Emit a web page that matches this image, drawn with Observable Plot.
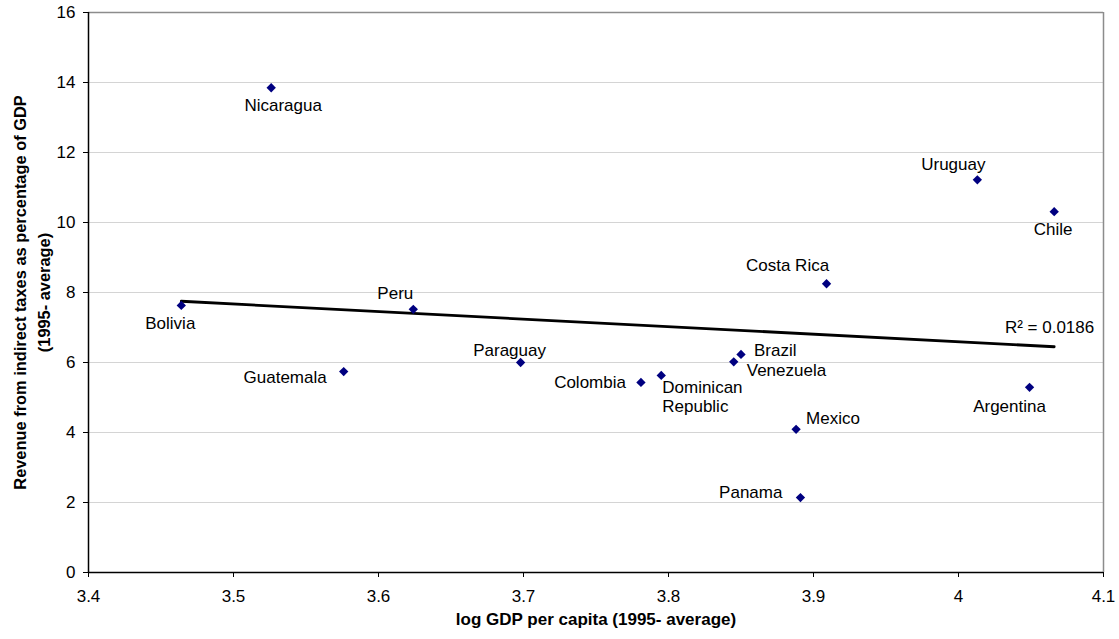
<!DOCTYPE html>
<html>
<head>
<meta charset="utf-8">
<script src="https://cdn.jsdelivr.net/npm/d3@7"></script>
<script src="https://cdn.jsdelivr.net/npm/@observablehq/plot@0.6"></script>
<style>
  html, body { margin: 0; padding: 0; background: #fff; }
  #chart svg { display: block; }
</style>
</head>
<body>
<div id="chart"></div>
<script>
// ---- data ----
const countries = ["Nicaragua","Bolivia","Guatemala","Peru","Paraguay","Colombia","Dominican\nRepublic","Venezuela","Brazil","Mexico","Panama","Costa Rica","Uruguay","Chile","Argentina"];
const logGdp   = [3.526, 3.464, 3.576, 3.624, 3.698, 3.781, 3.795, 3.845, 3.850, 3.888, 3.891, 3.909, 4.013, 4.066, 4.049];
const revenue  = [13.85, 7.63, 5.74, 7.52, 6.00, 5.43, 5.63, 6.02, 6.23, 4.09, 2.14, 8.25, 11.22, 10.31, 5.29];
const trendX = [3.464, 4.066];
const trendY = [7.75, 6.45];
const rSquaredText = "R² = 0.0186";
const xTicks = [3.4, 3.5, 3.6, 3.7, 3.8, 3.9, 4.0, 4.1];
const yTicks = [0, 2, 4, 6, 8, 10, 12, 14, 16];
const xTitle = "log GDP per capita (1995- average)";
const yTitle = "Revenue from indirect taxes as percentage of GDP\n(1995- average)";

// label placement (config, not data)
const labelPlace = {
  "Nicaragua": {dx: 12, dy: 17, a: "middle"},
  "Bolivia": {dx: -11, dy: 17, a: "middle"},
  "Guatemala": {dx: -17, dy: 5, a: "end"},
  "Peru": {dx: -18, dy: -17, a: "middle"},
  "Paraguay": {dx: -11, dy: -13, a: "middle"},
  "Colombia": {dx: -15, dy: -1, a: "end"},
  "Dominican\nRepublic": {dx: 1, dy: 21, a: "start"},
  "Venezuela": {dx: 13, dy: 8, a: "start"},
  "Brazil": {dx: 13, dy: -5, a: "start"},
  "Mexico": {dx: 10, dy: -12, a: "start"},
  "Panama": {dx: -18, dy: -6, a: "end"},
  "Costa Rica": {dx: -39, dy: -19, a: "middle"},
  "Uruguay": {dx: -24, dy: -16, a: "middle"},
  "Chile": {dx: -1, dy: 17, a: "middle"},
  "Argentina": {dx: -20, dy: 18, a: "middle"}
};

const points = countries.map((c, i) => ({country: c, x: logGdp[i], y: revenue[i]}));
const trend = trendX.map((x, i) => ({x, y: trendY[i]}));

const labelMarks = points.map(p =>
  Plot.text([p], {
    x: "x", y: "y", text: "country",
    dx: labelPlace[p.country].dx, dy: labelPlace[p.country].dy,
    textAnchor: labelPlace[p.country].a, fontSize: 17, fill: "#000", lineHeight: 1.15
  })
);

const chart = Plot.plot({
  width: 1119,
  height: 639,
  marginLeft: 88,
  marginTop: 12,
  marginRight: 16,
  marginBottom: 67,
  style: {fontFamily: "'Liberation Sans', Arial, sans-serif", background: "#fff"},
  x: {domain: [3.4, 4.1]},
  y: {domain: [0, 16]},
  marks: [
    Plot.ruleY(yTicks.filter(t => t > 0 && t < 16), {stroke: "#d4d4d4", strokeWidth: 1}),
    Plot.ruleY([16], {stroke: "#8c8c8c", strokeWidth: 1.5}),
    Plot.ruleX([4.1], {stroke: "#8c8c8c", strokeWidth: 1.5}),
    Plot.axisX({ticks: xTicks, tickFormat: d => String(+d.toFixed(1)), tickSize: 5, tickPadding: 12, fontSize: 17, label: null, stroke: "#000"}),
    Plot.axisY({ticks: yTicks, tickFormat: d => String(d), tickSize: 5, tickPadding: 8, fontSize: 17, label: null}),
    Plot.ruleX([3.4], {stroke: "#000", strokeWidth: 1.5}),
    Plot.ruleY([0], {stroke: "#000", strokeWidth: 1.5}),
    Plot.line(trend, {x: "x", y: "y", stroke: "#000", strokeWidth: 2.8}),
    Plot.dot(points, {x: "x", y: "y", symbol: "diamond2", r: 4.2, fill: "#000080", stroke: "none"}),
    ...labelMarks,
    Plot.text([rSquaredText], {x: trendX[1], y: trendY[1], text: d => d, dx: 40, dy: -19, textAnchor: "end", fontSize: 17}),
    Plot.text([xTitle], {frameAnchor: "bottom", dy: 52, text: d => d, fontSize: 17, fontWeight: "bold", textAnchor: "middle"}),
    Plot.text([yTitle], {frameAnchor: "left", rotate: -90, dx: -58, text: d => d, fontSize: 16.4, fontWeight: "bold", lineHeight: 1.42, textAnchor: "middle"})
  ]
});
document.getElementById("chart").appendChild(chart);
</script>
</body>
</html>
